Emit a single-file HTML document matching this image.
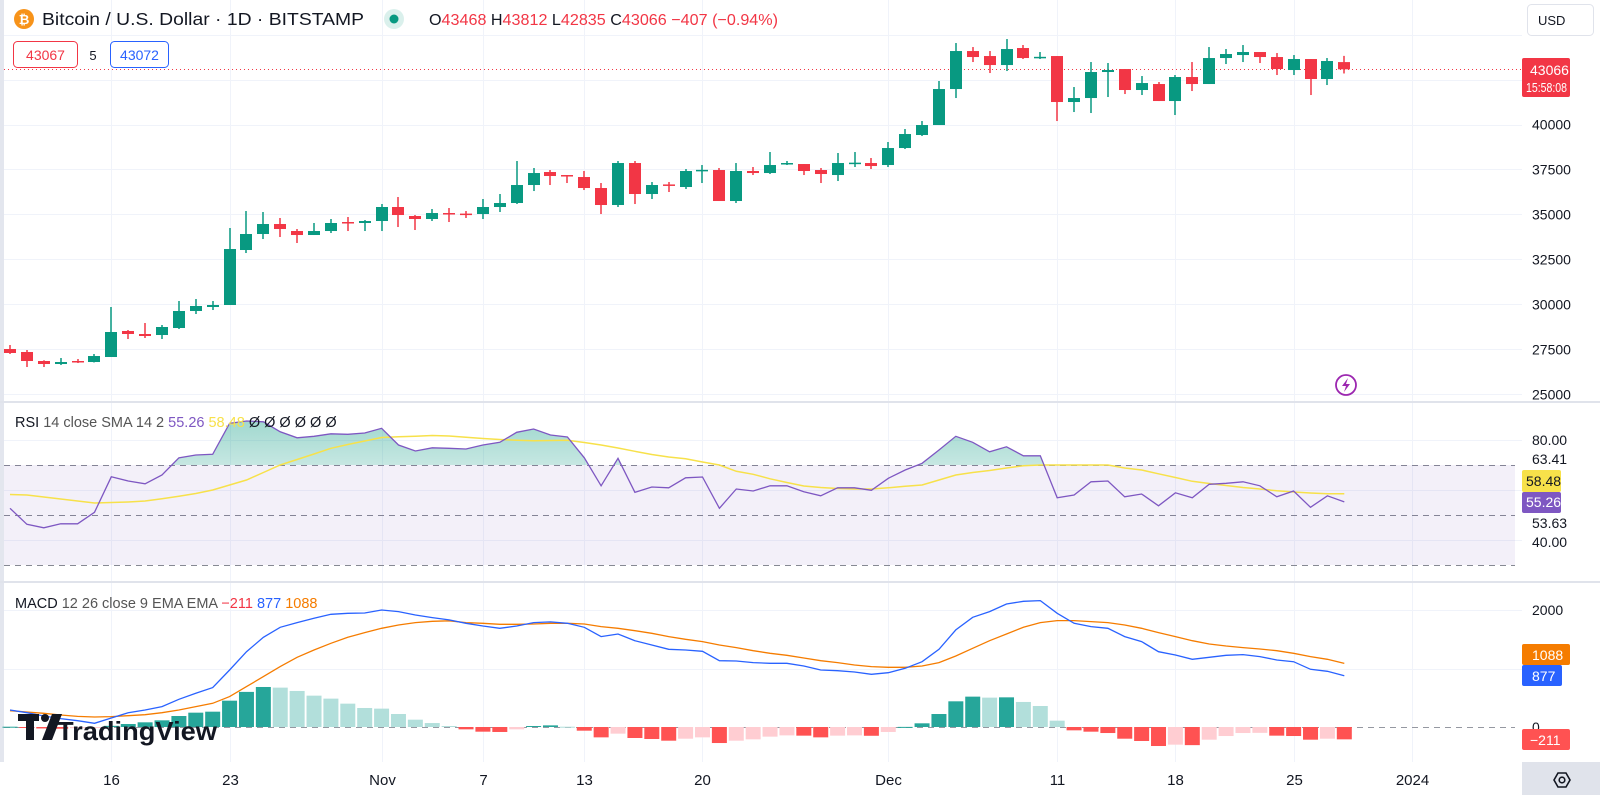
<!DOCTYPE html>
<html><head><meta charset="utf-8"><style>
html,body{margin:0;padding:0;background:#fff;}
svg{display:block;font-family:"Liberation Sans",sans-serif;}
</style></head><body>
<svg id="chart" width="1600" height="795" viewBox="0 0 1600 795" xmlns="http://www.w3.org/2000/svg">
<defs>
<linearGradient id="rsiGreen" x1="0" y1="0" x2="0" y2="1">
<stop offset="0" stop-color="#089981" stop-opacity="0.38"/>
<stop offset="1" stop-color="#089981" stop-opacity="0.02"/>
</linearGradient>
<clipPath id="above70"><rect x="0" y="402" width="1522" height="63"/></clipPath>
</defs>
<rect x="0" y="0" width="1600" height="795" fill="#ffffff"/>
<rect x="0" y="0" width="4" height="762" fill="#e3e6ee"/>
<g id="grid"></g>
<rect x="4" y="465" width="1511" height="100" fill="#7e57c2" fill-opacity="0.09"/>
<g id="price"></g>
<g id="rsi"></g>
<g id="macdg"></g>
<g id="axes"></g>

<rect x="0" y="401" width="1600" height="2" fill="#e0e3eb"/>
<rect x="0" y="581" width="1600" height="2" fill="#e0e3eb"/>

<g>
<circle cx="24" cy="19" r="10" fill="#f7931a"/>
<text x="24" y="24" font-size="13" font-weight="bold" fill="#fff" text-anchor="middle">₿</text>
<text x="42" y="25" font-size="17.5" fill="#131722" textLength="322" lengthAdjust="spacingAndGlyphs">Bitcoin / U.S. Dollar · 1D · BITSTAMP</text>
<circle cx="394" cy="19" r="10" fill="#089981" fill-opacity="0.15"/>
<circle cx="394" cy="19" r="4.5" fill="#089981"/>
<text x="429" y="25" font-size="16" fill="#f23645" textLength="349" lengthAdjust="spacingAndGlyphs"><tspan fill="#131722">O</tspan>43468 <tspan fill="#131722">H</tspan>43812 <tspan fill="#131722">L</tspan>42835 <tspan fill="#131722">C</tspan>43066 −407 (−0.94%)</text>
</g>
<g>
<rect x="13.5" y="41.5" width="64" height="26" rx="4" fill="#fff" stroke="#f23645"/>
<text x="45.5" y="60" font-size="14" fill="#f23645" text-anchor="middle">43067</text>
</g>
<text x="93" y="60" font-size="13" fill="#131722" text-anchor="middle">5</text>
<g>
<rect x="110.5" y="41.5" width="58" height="26" rx="4" fill="#fff" stroke="#2962ff"/>
<text x="139.5" y="60" font-size="14" fill="#2962ff" text-anchor="middle">43072</text>
</g>

<g>
<text x="15" y="427" font-size="14.5" fill="#131722">RSI <tspan fill="#555">14 close SMA 14 2</tspan> <tspan fill="#7e57c2">55.26</tspan> <tspan fill="#f7e14a">58.48</tspan> <tspan fill="#131722">Ø Ø Ø Ø Ø Ø</tspan></text>
</g>
<g>
<text x="15" y="608" font-size="14.5" fill="#131722">MACD <tspan fill="#555">12 26 close 9 EMA EMA</tspan> <tspan fill="#f23645">−211</tspan> <tspan fill="#2962ff">877</tspan> <tspan fill="#f57c00">1088</tspan></text>
</g>

<g>
<rect x="1527.5" y="4.5" width="66" height="31" rx="4" fill="#fff" stroke="#e0e3eb"/>
<text x="1538" y="25" font-size="13" fill="#131722">USD</text>
</g>
<g>
<rect x="1522" y="58" width="48" height="39" rx="2" fill="#f23645"/>
<text x="1530" y="75" font-size="14" fill="#fff">43066</text>
<text x="1526" y="92" font-size="13" fill="#fff" textLength="41" lengthAdjust="spacingAndGlyphs">15:58:08</text>
</g>
<g>
<rect x="1522" y="470" width="39" height="22" rx="2" fill="#f7e14a"/>
<text x="1526" y="486" font-size="14" fill="#131722">58.48</text>
</g>
<g>
<rect x="1522" y="492" width="39" height="21" rx="2" fill="#7e57c2"/>
<text x="1526" y="507" font-size="14" fill="#fff">55.26</text>
</g>
<text x="1532" y="445" font-size="14" fill="#131722">80.00</text>
<text x="1532" y="464" font-size="14" fill="#131722">63.41</text>
<text x="1532" y="528" font-size="14" fill="#131722">53.63</text>
<text x="1532" y="547" font-size="14" fill="#131722">40.00</text>
<text x="1532" y="615" font-size="14" fill="#131722">2000</text>
<text x="1532" y="732" font-size="14" fill="#131722">0</text>
<g>
<rect x="1522" y="644" width="48" height="21" rx="2" fill="#f57c00"/>
<text x="1532" y="660" font-size="14" fill="#fff">1088</text>
</g>
<g>
<rect x="1522" y="665" width="40" height="21" rx="2" fill="#2962ff"/>
<text x="1532" y="681" font-size="14" fill="#fff">877</text>
</g>
<g>
<rect x="1522" y="729" width="48" height="21" rx="2" fill="#ff5252"/>
<text x="1530" y="745" font-size="14" fill="#fff">−211</text>
</g>
<g>
<rect x="1522" y="762" width="78" height="33" fill="#e0e3eb"/>
<polygon points="1554,780 1558,773 1566,773 1570,780 1566,787 1558,787" fill="none" stroke="#131722" stroke-width="1.6"/>
<circle cx="1562" cy="780" r="2.8" fill="none" stroke="#131722" stroke-width="1.6"/>
</g>
<g>
<circle cx="1346" cy="385" r="10" fill="#fff" stroke="#9c27b0" stroke-width="1.8"/>
<path d="M1348,378 L1342,386 L1346,386 L1344,392 L1350,384 L1346,384 Z" fill="#9c27b0"/>
</g>
<g>
<rect x="18" y="714" width="21" height="7" fill="#131722"/>
<rect x="26" y="714" width="8" height="26" fill="#131722"/>
<circle cx="45" cy="718" r="4" fill="#131722"/>
<polygon points="52,714 62,714 52,740 42,740" fill="#131722"/>
<text x="57" y="740" font-size="26" font-weight="bold" fill="#131722" textLength="160" lengthAdjust="spacingAndGlyphs">TradingView</text>
</g>
</svg>

<script>
const dateLabels=["16","23","Nov","7","13","20","Dec","11","18","25","2024"];
const dateIdx=[6,13,22,28,34,41,52,62,69,76,83];
const priceTicks=[25000,27500,30000,32500,35000,37500,40000];
const opens=[27527,27360,26860,26693,26860,26804,27082,28527,28360,28304,
28693,29638,29860,29971,33027,33916,34471,34082,33860,34082,
34582,34527,34638,35416,34916,34749,35082,35050,35027,35416,
35638,36638,37360,37193,37082,36471,35527,37860,36138,36670,
36527,37440,37471,35749,37416,37304,37830,37804,37471,37193,
37840,37860,37749,38693,39416,39971,41971,44082,43804,43304,
44249,43720,43804,41249,41471,42916,43082,41916,42249,41304,
42638,42249,43693,43860,44027,43749,43027,43638,42527,43468];
const highs=[27749,27471,26900,27026,26970,27249,29860,28582,28971,28860,
30193,30304,30193,34249,35193,35138,34805,34193,34527,34749,
34860,34693,35582,35971,34971,35304,35360,35193,35860,36138,
37971,37582,37471,37193,37416,36749,37971,37971,36804,36804,
37527,37749,37582,37860,37638,38471,37971,37804,37582,38416,
38471,38138,39027,39749,40193,42416,44527,44304,44082,44749,
44416,44027,43804,42082,43471,43416,43082,42693,42360,42749,
43471,44304,44193,44416,44027,43971,43860,43638,43693,43812];
const lows=[27249,26526,26526,26637,26748,26780,27082,28082,28138,28082,
28638,29471,29693,29971,32860,33638,33749,33416,33860,33971,
34082,34082,34082,34304,34138,34638,34582,34805,34749,35138,
35582,36304,36638,36749,36360,35027,35416,35582,35860,36249,
36416,36749,35749,35638,37193,37249,37749,37193,36749,36860,
37638,37527,37638,38638,39360,39971,41471,43471,42860,42971,
43638,43638,40193,40693,40638,41527,41693,41638,41304,40527,
41860,42249,43360,43471,43416,42749,42749,41638,42193,42835];
const closes=[27305,26860,26693,26804,26804,27137,28471,28360,28249,28749,
29638,29916,29971,33082,33916,34471,34193,33860,34082,34527,
34527,34638,35416,34971,34749,35082,35027,35000,35416,35638,
36638,37304,37138,37138,36471,35527,37860,36138,36638,36620,
37416,37480,35749,37416,37304,37749,37860,37416,37249,37860,
37880,37693,38693,39471,39971,41971,44082,43749,43304,44193,
43693,43760,41249,41471,42916,43027,41916,42304,41304,42638,
42249,43693,43916,44027,43749,43082,43638,42527,43527,43066];
const rsiValues=[52.7,46.3,44.9,46.5,46.5,51.1,65.3,63.6,62.5,66,
72.9,74,74.3,86.7,87.6,87.3,83.3,80.9,81.5,82.5,
82.3,82.8,84.7,78,75.6,76.9,76.7,76.4,78,79.1,
83.1,84.4,82,81.2,72.9,61.7,72.7,59.1,61.2,60.9,
64.9,65.2,52.7,60.4,59.6,61.7,61.7,59.3,57.7,60.9,
60.9,59.9,64.7,68,70.7,76,81.5,79.1,75.3,77.3,
73.7,73.7,56.9,58,63.3,63.6,57.3,58.4,53.7,58.9,
56.9,62.3,62.7,63.3,61.7,57.3,59.6,53.1,57.7,55.26];
const rsiSma=[58.2,58,57.2,56.4,55.6,54.8,55,55.2,55.6,56.5,
57.5,58.6,60,62,64,67,70,72.2,74.4,76.7,
78.2,79.6,81,81.3,81.5,81.8,81.6,81.1,80.6,80.2,
79.9,79.7,79.8,79.9,79,78,76.8,75.5,74.2,73.2,
72.5,71.2,70,67.5,66.3,64.5,63,61.6,61,60.6,
60.4,60.4,60.9,61.5,62,64,66,67,67.8,68.8,
69.7,70,70,70,70,70,68.8,68,66.5,65,
63.5,62.6,61.8,61,60.4,59.7,59.2,58.8,58.5,58.48];
const macdValues=[290,245,188,143,108,63,154,245,291,348,
473,576,673,975,1288,1533,1704,1784,1858,1927,
1944,1949,2000,1972,1915,1870,1830,1773,1727,1687,
1727,1784,1796,1773,1704,1545,1590,1476,1402,1328,
1317,1294,1134,1129,1100,1089,1089,1043,975,963,
941,901,929,1003,1117,1328,1659,1875,1972,2103,
2149,2160,1944,1773,1716,1687,1545,1459,1288,1231,
1157,1191,1226,1237,1203,1146,1117,986,952,877];
const signalValues=[279,257,234,205,182,171,177,194,211,245,
291,348,405,519,690,861,1032,1191,1317,1431,
1533,1613,1687,1744,1784,1807,1815,1784,1773,1756,
1756,1761,1773,1773,1761,1716,1687,1647,1602,1545,
1499,1459,1402,1357,1305,1260,1226,1180,1134,1100,
1060,1032,1020,1020,1043,1100,1214,1345,1476,1590,
1704,1784,1818,1818,1801,1784,1744,1687,1613,1545,
1476,1419,1385,1357,1334,1305,1260,1203,1157,1088];
const histValues=[5,-10,-25,-30,-20,-5,20,51,80,114,
188,245,262,450,600,684,673,616,536,485,
399,325,314,222,125,68,17,-40,-80,-85,
-40,17,28,5,-63,-177,-114,-188,-205,-234,
-200,-177,-274,-234,-211,-165,-143,-148,-177,-148,
-143,-150,-85,2,63,222,439,519,502,507,
428,359,108,-57,-80,-103,-200,-239,-325,-302,
-310,-217,-154,-103,-100,-148,-154,-217,-200,-211];

const NS="http://www.w3.org/2000/svg";
const xOf=i=>10+16.89*i;
const yP=p=>124.5-(p-40000)/55.56;
const yR=v=>515-(v-50)*2.5;
const yM=v=>727-v*0.0585;
function mk(tag,attrs,parent){const e=document.createElementNS(NS,tag);for(const k in attrs)e.setAttribute(k,attrs[k]);parent.appendChild(e);return e;}

const grid=document.getElementById('grid');
const axes=document.getElementById('axes');
dateIdx.forEach((di,k)=>{
  const x=Math.round(xOf(di))+0.5;
  const gl=mk('line',{x1:x,y1:0,x2:x,y2:762,stroke:'#f0f3fa','stroke-width':1},grid);
  
  
  const t=mk('text',{x:x,y:785,'font-size':15,fill:'#131722','text-anchor':'middle'},axes);
  t.textContent=dateLabels[k];
  
  
});
for(let p=25000;p<=45000;p+=2500){
  const y=Math.round(yP(p))+0.5;
  const gl=mk('line',{x1:4,y1:y,x2:1522,y2:y,stroke:'#f0f3fa','stroke-width':1},grid);
  
  
}
priceTicks.forEach(p=>{
  const t=mk('text',{x:1532,y:yP(p)+5,'font-size':14,fill:'#131722'},axes);
  t.textContent=p;
  
  
});
[80,60,40].forEach(v=>{
  const y=Math.round(yR(v))+0.5;
  const gl=mk('line',{x1:4,y1:y,x2:1522,y2:y,stroke:'#f0f3fa'},grid);
  
  
});
[70,50,30].forEach(v=>{
  const y=Math.round(yR(v))+0.5;
  const dl=mk('line',{x1:4,y1:y,x2:1515,y2:y,stroke:'#868993','stroke-dasharray':'6,5','stroke-width':1},grid);
  
  
});
[2000,1000].forEach(v=>{
  const y=Math.round(yM(v))+0.5;
  const gl=mk('line',{x1:4,y1:y,x2:1522,y2:y,stroke:'#f0f3fa'},grid);
  
  
});
{
  const y=Math.round(yM(0))+0.5;
  const zl=mk('line',{x1:4,y1:y,x2:1515,y2:y,stroke:'#9598a1','stroke-dasharray':'6,5'},grid);
  
  
}

const price=document.getElementById('price');
const lastY=Math.round(yP(closes[closes.length-1]))+0.5;
const pl=mk('line',{x1:4,y1:lastY,x2:1522,y2:lastY,stroke:'#f23645','stroke-dasharray':'1,3','stroke-width':1},price);


for(let i=0;i<opens.length;i++){
  const up=closes[i]>=opens[i];
  const col=up?'#089981':'#f23645';
  const x=Math.round(xOf(i));
  const g=mk('g',{},price);
  
  
  mk('rect',{x:x-0.75,y:yP(highs[i]),width:1.5,height:Math.max(1,yP(lows[i])-yP(highs[i])),fill:col},g);
  const top=yP(Math.max(opens[i],closes[i])),bot=yP(Math.min(opens[i],closes[i]));
  mk('rect',{x:x-6,y:top,width:12,height:Math.max(1.5,bot-top),fill:col},g);
}

const rsiG=document.getElementById('rsi');
const rpts=rsiValues.map((v,i)=>xOf(i).toFixed(1)+','+yR(v).toFixed(1));
const fillPts=[xOf(0).toFixed(1)+',465'].concat(rpts).concat([xOf(rsiValues.length-1).toFixed(1)+',465']);
const rf=mk('polygon',{points:fillPts.join(' '),fill:'url(#rsiGreen)','clip-path':'url(#above70)'},rsiG);


const sm=mk('polyline',{points:rsiSma.map((v,i)=>xOf(i).toFixed(1)+','+yR(v).toFixed(1)).join(' '),fill:'none',stroke:'#f7e14a','stroke-width':1.5},rsiG);


const rl=mk('polyline',{points:rpts.join(' '),fill:'none',stroke:'#7e57c2','stroke-width':1.3},rsiG);



const mg=document.getElementById('macdg');
for(let i=0;i<histValues.length;i++){
  const h=histValues[i],prev=i>0?histValues[i-1]:0;
  let col;
  if(h>=0) col=(h>=prev)?'#26a69a':'#b2dfdb';
  else col=(h<prev)?'#ff5252':'#ffcdd2';
  const y0=yM(0),y1=yM(h);
  const b=mk('rect',{x:xOf(i)-7.5,y:Math.min(y0,y1),width:15,height:Math.max(1,Math.abs(y1-y0)),fill:col},mg);
  
  
}
const sg=mk('polyline',{points:signalValues.map((v,i)=>xOf(i).toFixed(1)+','+yM(v).toFixed(1)).join(' '),fill:'none',stroke:'#f57c00','stroke-width':1.3},mg);


const ml=mk('polyline',{points:macdValues.map((v,i)=>xOf(i).toFixed(1)+','+yM(v).toFixed(1)).join(' '),fill:'none',stroke:'#2962ff','stroke-width':1.3},mg);


</script>
</body></html>
